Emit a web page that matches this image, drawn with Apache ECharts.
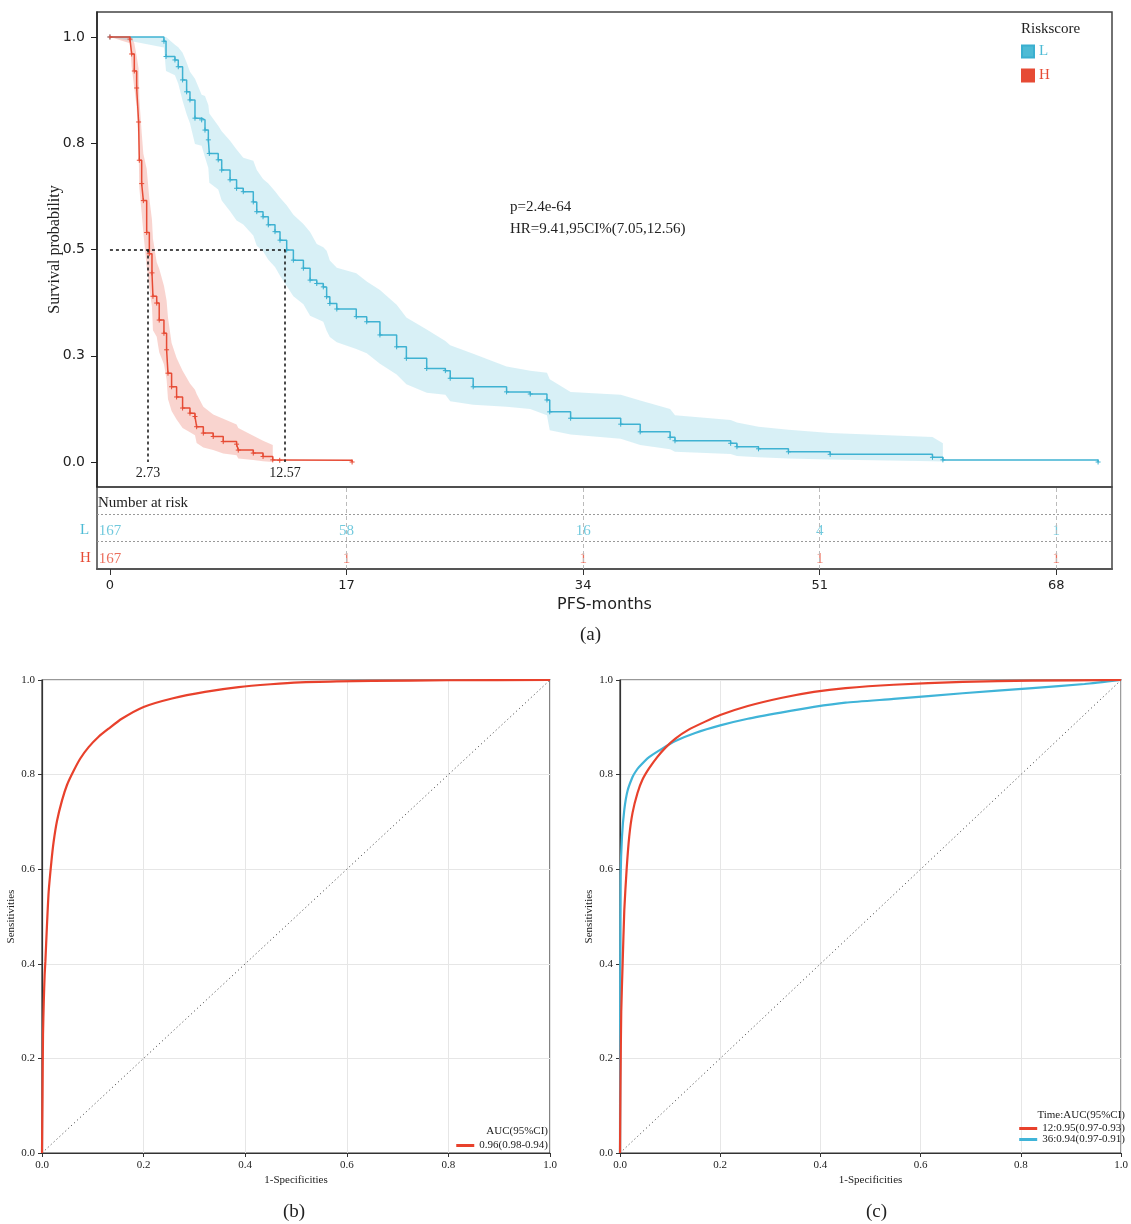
<!DOCTYPE html>
<html>
<head>
<meta charset="utf-8">
<script src="https://cdn.jsdelivr.net/npm/echarts@6.0.0/dist/echarts.min.js"></script>
<style>
    * { margin: 0; padding: 0; }
    body { background: #fff; }
    #container { width: 1131px; height: 1224px; }
</style>
</head>
<body>
<div id="container"></div>
<script>
    // ---- (a) Kaplan-Meier, high risk group H ----
    var timeH = [0, 1.44, 1.56, 1.75, 1.92, 2.06, 2.11, 2.28, 2.40, 2.64, 2.83, 3.02, 3.09, 3.36, 3.54, 3.88, 4.07, 4.17, 4.43, 4.79, 5.22, 5.75, 6.11, 6.23, 6.71, 7.42, 8.14, 9.1, 9.22, 10.3, 11.0, 11.7, 12.2, 17.4];
    var survH = [1, 0.995, 0.96, 0.92, 0.88, 0.80, 0.71, 0.655, 0.615, 0.54, 0.49, 0.445, 0.39, 0.374, 0.334, 0.303, 0.264, 0.209, 0.177, 0.153, 0.127, 0.115, 0.107, 0.083, 0.068, 0.06, 0.048, 0.042, 0.028, 0.021, 0.013, 0.005, 0.004, 0.0];
    var lowerH = [1, 0.985, 0.93, 0.88, 0.835, 0.745, 0.645, 0.585, 0.54, 0.46, 0.41, 0.365, 0.31, 0.295, 0.258, 0.23, 0.195, 0.148, 0.12, 0.1, 0.08, 0.07, 0.063, 0.045, 0.034, 0.028, 0.02, 0.016, 0.008, 0.005, 0.002, 0.0];
    var upperH = [1, 1.0, 0.985, 0.955, 0.925, 0.855, 0.775, 0.725, 0.69, 0.62, 0.57, 0.525, 0.47, 0.455, 0.415, 0.38, 0.34, 0.28, 0.245, 0.215, 0.185, 0.17, 0.16, 0.13, 0.112, 0.102, 0.088, 0.08, 0.062, 0.05, 0.04, 0.035];

    // ---- (a) Kaplan-Meier, low risk group L ----
    var timeL = [0, 3.88, 4.03, 4.67, 4.91, 5.22, 5.51, 5.75, 6.11, 6.59, 6.83, 7.07, 7.14, 7.78, 8.03, 8.63, 9.1, 9.58, 10.3, 10.55, 11.0, 11.38, 11.86, 12.22, 12.7, 13.18, 13.9, 14.38, 14.86, 15.33, 15.57, 15.8, 16.3, 17.7, 18.45, 19.4, 20.6, 21.3, 22.76, 24.1, 24.45, 26.1, 28.5, 30.2, 31.4, 31.6, 33.1, 36.7, 38.1, 40.25, 40.6, 44.6, 45.05, 46.6, 48.75, 51.75, 59.1, 59.85, 71.0];
    var survL = [1, 0.99, 0.954, 0.946, 0.93, 0.899, 0.871, 0.852, 0.809, 0.805, 0.781, 0.758, 0.726, 0.711, 0.687, 0.664, 0.644, 0.636, 0.612, 0.589, 0.577, 0.558, 0.542, 0.522, 0.499, 0.475, 0.456, 0.428, 0.42, 0.412, 0.389, 0.373, 0.36, 0.342, 0.33, 0.299, 0.271, 0.244, 0.22, 0.215, 0.197, 0.177, 0.165, 0.16, 0.146, 0.118, 0.103, 0.089, 0.071, 0.058, 0.05, 0.044, 0.036, 0.031, 0.024, 0.018, 0.011, 0.005, 0.0];
    var lowerL = [1, 0.975, 0.92, 0.91, 0.89, 0.85, 0.818, 0.797, 0.748, 0.744, 0.717, 0.692, 0.657, 0.641, 0.615, 0.59, 0.568, 0.559, 0.533, 0.509, 0.496, 0.476, 0.459, 0.438, 0.414, 0.39, 0.371, 0.344, 0.337, 0.33, 0.309, 0.294, 0.282, 0.266, 0.256, 0.231, 0.206, 0.183, 0.163, 0.158, 0.143, 0.135, 0.13, 0.125, 0.11, 0.075, 0.065, 0.055, 0.04, 0.03, 0.024, 0.019, 0.014, 0.011, 0.008, 0.006, 0.002, 0.001];
    var upperL = [1, 1.0, 0.982, 0.976, 0.963, 0.94, 0.918, 0.902, 0.864, 0.861, 0.84, 0.82, 0.791, 0.778, 0.756, 0.735, 0.716, 0.709, 0.687, 0.666, 0.655, 0.637, 0.622, 0.604, 0.582, 0.56, 0.541, 0.513, 0.505, 0.497, 0.474, 0.457, 0.444, 0.425, 0.405, 0.37, 0.34, 0.312, 0.285, 0.275, 0.255, 0.225, 0.215, 0.21, 0.195, 0.165, 0.158, 0.145, 0.125, 0.11, 0.099, 0.093, 0.083, 0.076, 0.068, 0.059, 0.044, 0.044];

    var medians = [2.73, 12.57];          // H, L
    var survTicks = [0, 0.25, 0.5, 0.75, 1];

    // number at risk table
    var riskTimes = [0, 17, 34, 51, 68];
    var riskL = [167, 58, 16, 4, 1];
    var riskH = [167, 1, 1, 1, 1];

    // ---- (b) ROC ----
    var rocBx = [0, 0.001, 0.002, 0.0035, 0.0052, 0.0066, 0.0098, 0.0131, 0.0184, 0.0229, 0.0295, 0.0393, 0.0492, 0.0623, 0.0754, 0.0918, 0.1114, 0.131, 0.157, 0.2, 0.256, 0.321, 0.387, 0.45, 0.508, 0.58, 0.65, 0.8, 1.0];
    var rocBy = [0, 0.12, 0.25, 0.32, 0.376, 0.404, 0.482, 0.552, 0.615, 0.658, 0.702, 0.745, 0.778, 0.808, 0.834, 0.858, 0.880, 0.897, 0.918, 0.943, 0.961, 0.975, 0.985, 0.991, 0.995, 0.997, 0.998, 0.9995, 1.0];

    // ---- (c) time dependent ROC, 12 and 36 months ----
    var roc12x = [0, 0.001, 0.0025, 0.0053, 0.0086, 0.0132, 0.0184, 0.025, 0.0349, 0.0447, 0.0579, 0.0743, 0.0908, 0.1105, 0.137, 0.17, 0.2, 0.255, 0.321, 0.387, 0.45, 0.546, 0.684, 0.823, 1.0];
    var roc12y = [0, 0.15, 0.3, 0.401, 0.514, 0.599, 0.669, 0.719, 0.761, 0.789, 0.813, 0.837, 0.857, 0.876, 0.895, 0.912, 0.926, 0.945, 0.962, 0.975, 0.983, 0.990, 0.996, 0.9986, 1.0];
    var roc36x = [0, 0.0003, 0.0006, 0.0013, 0.004, 0.0086, 0.0151, 0.025, 0.031, 0.038, 0.058, 0.0842, 0.1105, 0.15, 0.2, 0.255, 0.321, 0.387, 0.45, 0.546, 0.684, 0.823, 0.927, 1.0];
    var roc36y = [0, 0.2, 0.394, 0.585, 0.669, 0.726, 0.766, 0.795, 0.806, 0.816, 0.837, 0.855, 0.871, 0.888, 0.904, 0.918, 0.931, 0.943, 0.952, 0.96, 0.972, 0.983, 0.9915, 1.0];

    var chanceLine = [[0, 0], [1, 1]];

    var SERIF = "'Liberation Serif', 'Times New Roman', serif";
    var SANS = "'DejaVu Sans', sans-serif";
    var RED = '#E64B35';
    var BLUE = '#4DBBD5';

    function pairs(xs, ys) {
        return xs.map(function (x, i) { return [x, ys[i]]; });
    }

    // 置信区间带：上界取台阶右角点，下界取台阶左角点，保证曲线在带内
    function ciBand(times, lower, upper, fill) {
        return function (params, api) {
            var n = lower.length, pts = [api.coord([times[0], upper[0]])];
            for (var i = 0; i < n - 1; i++) {
                pts.push(api.coord([times[i + 1], upper[i]]));
            }
            pts.push(api.coord([times[n - 1], upper[n - 1]]));
            for (var j = n - 1; j >= 0; j--) {
                pts.push(api.coord([times[j], lower[j]]));
            }
            return {type: 'polygon', shape: {points: pts}, style: {fill: fill}};
        };
    }

    var plusSymbol = 'path://M5,0L5,10M0,5L10,5';

    function rocAxis(grid, name, isY) {
        return {
            gridIndex: grid, type: 'value', min: 0, max: 1, interval: 0.2,
            axisLine: {show: true, onZero: false, lineStyle: {color: '#333', width: 1.2}},
            axisTick: {show: true, length: 4, lineStyle: {color: '#333'}},
            axisLabel: {
                formatter: function (v) { return v.toFixed(1); },
                fontFamily: SERIF, fontSize: 11, color: '#222', margin: 7
            },
            splitLine: {show: true, lineStyle: {color: '#e6e6e6', width: 1}},
            name: name, nameLocation: 'middle', nameGap: isY ? 25 : 22, nameMoveOverlap: false,
            nameTextStyle: {fontFamily: SERIF, fontSize: 11, color: '#222'}
        };
    }

    function rocLine(name, grid, xs, ys, color) {
        return {
            type: 'line', name: name, xAxisIndex: grid, yAxisIndex: grid,
            data: pairs(xs, ys), smooth: 0.2,
            symbol: 'none', lineStyle: {color: color, width: 2.2}, itemStyle: {color: color}
        };
    }

    var dom = document.getElementById('container');
    var chart = echarts.init(dom, null, {renderer: 'canvas'});

    var option = {
        animation: false,
        backgroundColor: '#fff',
        grid: [
            {left: 97, right: 19, top: 12, bottom: 737, show: true, borderColor: '#444', borderWidth: 1.5},
            {left: 97, right: 19, top: 487, bottom: 655, show: true, borderColor: '#444', borderWidth: 1.5},
            {left: 42, right: 581, top: 680, bottom: 71, show: true, borderColor: '#333', borderWidth: 1.2},
            {left: 620, right: 4, top: 680, bottom: 71, show: true, borderColor: '#333', borderWidth: 1.2}
        ],
        xAxis: [
            {gridIndex: 0, type: 'value', min: -0.93, max: 72, show: false},
            {
                gridIndex: 1, type: 'value', min: -0.93, max: 72, position: 'bottom',
                axisLine: {show: true, onZero: false, lineStyle: {color: '#555', width: 2}},
                axisTick: {show: true, length: 6, customValues: riskTimes, lineStyle: {color: '#333'}},
                axisLabel: {customValues: riskTimes, fontFamily: SANS, fontSize: 13, color: '#222', margin: 10},
                splitLine: {show: false},
                name: 'PFS-months', nameLocation: 'middle', nameGap: 28, nameMoveOverlap: false,
                nameTextStyle: {fontFamily: SANS, fontSize: 16, color: '#222'}
            },
            rocAxis(2, '1-Specificities', false),
            rocAxis(3, '1-Specificities', false)
        ],
        yAxis: [
            {
                gridIndex: 0, type: 'value', min: -0.0588, max: 1.0588,
                axisLine: {show: true, onZero: false, lineStyle: {color: '#222', width: 1.5}},
                axisTick: {show: true, length: 6, customValues: survTicks, lineStyle: {color: '#222'}},
                axisLabel: {
                    customValues: survTicks,
                    formatter: function (v) { return v.toFixed(1); },
                    fontFamily: SANS, fontSize: 14, color: '#222', margin: 12
                },
                splitLine: {show: false},
                name: 'Survival probability', nameLocation: 'middle', nameGap: 34, nameMoveOverlap: false,
                nameTextStyle: {fontFamily: SERIF, fontSize: 16, color: '#222'}
            },
            {gridIndex: 1, type: 'value', min: 0, max: 3, show: false},
            rocAxis(2, 'Sensitivities', true),
            rocAxis(3, 'Sensitivities', true)
        ],
        legend: [
            {
                left: 1021, top: 44, padding: 0, orient: 'vertical', icon: 'rect',
                itemWidth: 12, itemHeight: 12, itemGap: 9, selectedMode: false,
                textStyle: {fontFamily: SERIF, fontSize: 15},
                data: [
                    {name: 'L', itemStyle: {color: BLUE}, textStyle: {color: BLUE}},
                    {name: 'H', itemStyle: {color: RED}, textStyle: {color: RED}}
                ]
            },
            {
                right: 583, top: 1140, padding: 0, orient: 'vertical', icon: 'rect',
                itemWidth: 18, itemHeight: 3, itemGap: 0, selectedMode: false,
                textStyle: {fontFamily: SERIF, fontSize: 11, color: '#222'},
                data: [{name: '0.96(0.98-0.94)', itemStyle: {color: '#E8412C'}}]
            },
            {
                right: 6, top: 1123, padding: 0, orient: 'vertical', icon: 'rect',
                itemWidth: 18, itemHeight: 3, itemGap: 0, selectedMode: false,
                textStyle: {fontFamily: SERIF, fontSize: 11, color: '#222'},
                data: [
                    {name: '12:0.95(0.97-0.93)', itemStyle: {color: '#E8412C'}},
                    {name: '36:0.94(0.97-0.91)', itemStyle: {color: '#40B4D8'}}
                ]
            }
        ],
        graphic: [
            {type: 'text', left: 1021, top: 22, style: {text: 'Riskscore', font: '15px ' + SERIF, fill: '#222'}},
            {type: 'text', left: 510, top: 200, style: {text: 'p=2.4e-64', font: '15px ' + SERIF, fill: '#222'}},
            {type: 'text', left: 510, top: 222, style: {text: 'HR=9.41,95CI%(7.05,12.56)', font: '15px ' + SERIF, fill: '#222'}},
            {type: 'text', left: 98, top: 496, style: {text: 'Number at risk', font: '15px ' + SERIF, fill: '#222'}},
            {type: 'text', left: 80, top: 523, style: {text: 'L', font: '15px ' + SERIF, fill: BLUE}},
            {type: 'text', left: 80, top: 551, style: {text: 'H', font: '15px ' + SERIF, fill: RED}},
            {type: 'text', left: 580, top: 626, style: {text: '(a)', font: '19px ' + SERIF, fill: '#222'}},
            {type: 'text', left: 283, top: 1203, style: {text: '(b)', font: '19px ' + SERIF, fill: '#222'}},
            {type: 'text', left: 866, top: 1203, style: {text: '(c)', font: '19px ' + SERIF, fill: '#222'}},
            {type: 'text', right: 583, top: 1126, style: {text: 'AUC(95%CI)', font: '11px ' + SERIF, fill: '#222'}},
            {type: 'text', right: 6, top: 1110, style: {text: 'Time:AUC(95%CI)', font: '11px ' + SERIF, fill: '#222'}}
        ],
        series: [
            {
                type: 'custom', name: 'H band', xAxisIndex: 0, yAxisIndex: 0, z: 1, silent: true,
                data: [[timeH[0], 1]],
                renderItem: ciBand(timeH, lowerH, upperH, 'rgba(230,75,53,0.24)')
            },
            {
                type: 'custom', name: 'L band', xAxisIndex: 0, yAxisIndex: 0, z: 1, silent: true,
                data: [[timeL[0], 1]],
                renderItem: ciBand(timeL, lowerL, upperL, 'rgba(77,187,213,0.22)')
            },
            {
                type: 'line', name: 'L', xAxisIndex: 0, yAxisIndex: 0, z: 3, step: 'end',
                data: pairs(timeL, survL),
                symbol: plusSymbol, symbolSize: 5,
                itemStyle: {color: BLUE, borderColor: '#3AAFCF', borderWidth: 1},
                lineStyle: {color: '#3FB2D2', width: 1.5}
            },
            {
                type: 'line', name: 'H', xAxisIndex: 0, yAxisIndex: 0, z: 4, step: 'end',
                data: pairs(timeH, survH),
                symbol: plusSymbol, symbolSize: 5,
                itemStyle: {color: RED, borderColor: RED, borderWidth: 1},
                lineStyle: {color: RED, width: 1.5},
                markLine: {
                    silent: true, symbol: 'none', animation: false,
                    lineStyle: {color: '#111', type: [3, 3], width: 1.5},
                    label: {show: false},
                    data: [
                        [{coord: [0, 0.5]}, {coord: [medians[1], 0.5]}],
                        [{coord: [medians[0], 0.5], label: {show: true, position: 'end', distance: 4, formatter: String(medians[0]), fontFamily: SERIF, fontSize: 14, color: '#222'}},
                         {coord: [medians[0], 0]}],
                        [{coord: [medians[1], 0.5], label: {show: true, position: 'end', distance: 4, formatter: String(medians[1]), fontFamily: SERIF, fontSize: 14, color: '#222'}},
                         {coord: [medians[1], 0]}]
                    ]
                }
            },
            {
                type: 'scatter', name: 'riskL', xAxisIndex: 1, yAxisIndex: 1,
                data: riskTimes.map(function (t, i) { return [t, 1.38, riskL[i]]; }),
                symbolSize: 1, itemStyle: {color: 'rgba(0,0,0,0)'},
                label: {show: true, position: 'inside', formatter: function (p) { return p.value[2]; },
                        fontFamily: SERIF, fontSize: 15, color: BLUE},
                markLine: {
                    silent: true, symbol: 'none', label: {show: false},
                    data: [
                        {xAxis: 17, lineStyle: {color: '#bbb', type: [4, 3], width: 1}},
                        {xAxis: 34, lineStyle: {color: '#bbb', type: [4, 3], width: 1}},
                        {xAxis: 51, lineStyle: {color: '#bbb', type: [4, 3], width: 1}},
                        {xAxis: 68, lineStyle: {color: '#bbb', type: [4, 3], width: 1}},
                        {yAxis: 1, lineStyle: {color: '#999', type: [2, 2], width: 1}},
                        {yAxis: 2, lineStyle: {color: '#999', type: [2, 2], width: 1}}
                    ]
                }
            },
            {
                type: 'scatter', name: 'riskH', xAxisIndex: 1, yAxisIndex: 1,
                data: riskTimes.map(function (t, i) { return [t, 0.36, riskH[i]]; }),
                symbolSize: 1, itemStyle: {color: 'rgba(0,0,0,0)'},
                label: {show: true, position: 'inside', formatter: function (p) { return p.value[2]; },
                        fontFamily: SERIF, fontSize: 15, color: RED}
            },
            {
                type: 'line', name: 'chanceB', xAxisIndex: 2, yAxisIndex: 2, data: chanceLine,
                symbol: 'none', lineStyle: {color: '#333', width: 1, type: [1, 3]}
            },
            rocLine('0.96(0.98-0.94)', 2, rocBx, rocBy, '#E8412C'),
            {
                type: 'line', name: 'chanceC', xAxisIndex: 3, yAxisIndex: 3, data: chanceLine,
                symbol: 'none', lineStyle: {color: '#333', width: 1, type: [1, 3]}
            },
            rocLine('36:0.94(0.97-0.91)', 3, roc36x, roc36y, '#40B4D8'),
            rocLine('12:0.95(0.97-0.93)', 3, roc12x, roc12y, '#E8412C')
        ]
    };

    chart.setOption(option, true);
</script>
</body>
</html>
